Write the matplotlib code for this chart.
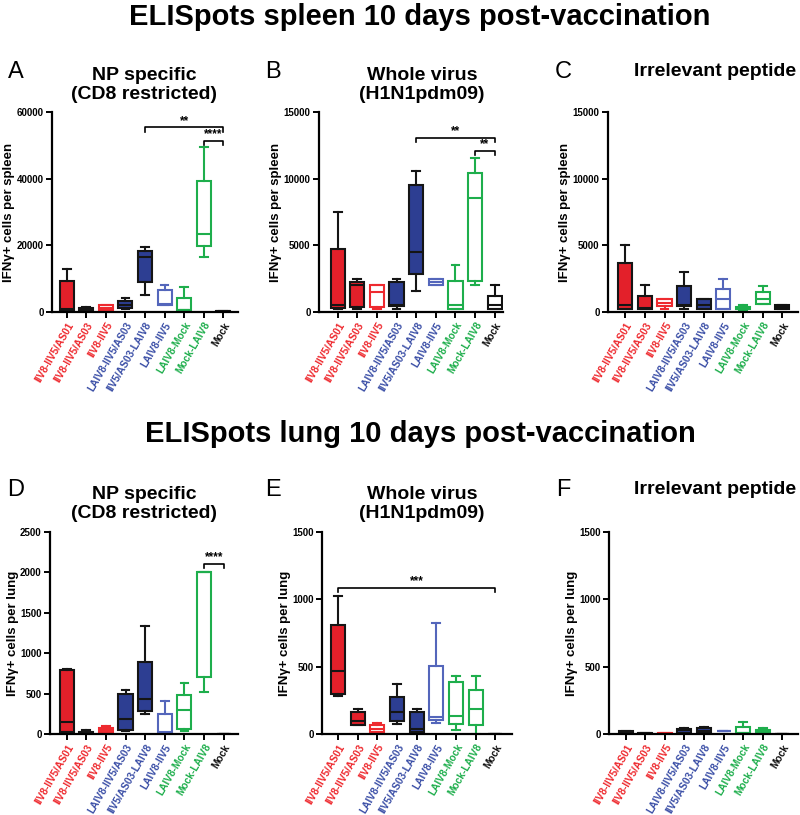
import matplotlib
matplotlib.use("Agg")
import matplotlib.pyplot as plt

plt.rcParams["font.family"] = ["Liberation Sans", "DejaVu Sans"]

# group labels and styling groups
groups = ["IIV8-IIV5/AS01", "IIV8-IIV5/AS03", "IIV8-IIV5", "LAIV8-IIV5/AS03",
          "IIV5/AS03-LAIV8", "LAIV8-IIV5", "LAIV8-Mock", "Mock-LAIV8", "Mock"]
filled = [True, True, False, True, True, False, False, False, False]
group_colour = ["red", "red", "red", "blue", "blue", "blue", "green", "green", "black"]

# five-number summaries per group: (min, q1, median, q3, max)
spleen_np = [(200, 300, 800, 9400, 12900), (300, 400, 900, 1200, 1500),
             (300, 500, 1200, 2000, 2000), (900, 1200, 2200, 3200, 4200),
             (5000, 8900, 16500, 18400, 19500), (2000, 2000, 2300, 6500, 8000),
             (500, 500, 600, 4300, 7500), (16500, 19900, 23500, 39200, 49600),
             (0, 100, 200, 300, 400)]
spleen_virus = [(250, 300, 500, 4700, 7500), (220, 400, 2000, 2250, 2500),
                (230, 350, 1500, 2000, 2000), (220, 420, 550, 2250, 2500),
                (1540, 2840, 4480, 9500, 10580), (2000, 2050, 2250, 2500, 2500),
                (250, 250, 500, 2290, 3490), (1990, 2340, 8520, 10460, 11550),
                (250, 250, 500, 1170, 2000)]
spleen_irr = [(250, 250, 500, 3700, 5000), (250, 250, 300, 1200, 2000),
              (220, 420, 700, 1000, 1000), (220, 420, 500, 1960, 2980),
              (250, 250, 500, 970, 970), (250, 250, 990, 1710, 2480),
              (170, 200, 300, 350, 500), (600, 600, 1000, 1500, 1980),
              (200, 250, 400, 500, 500)]
lung_np = [(25, 25, 150, 790, 800), (0, 5, 15, 30, 50),
           (25, 25, 50, 70, 95), (40, 54, 190, 500, 550),
           (252, 285, 438, 892, 1334), (12, 12, 20, 252, 409),
           (37, 62, 302, 483, 628), (520, 700, 2000, 2000, 2000),
           (0, 0, 0, 2, 3)]
lung_virus = [(283, 300, 471, 813, 1024), (64, 69, 94, 164, 183),
              (12, 12, 37, 67, 82), (77, 94, 164, 275, 370),
              (15, 15, 37, 166, 183), (84, 107, 126, 506, 821),
              (27, 72, 136, 387, 431), (0, 64, 188, 330, 431),
              (0, 0, 0, 1, 2)]
lung_irr = [(3, 5, 10, 20, 25), (0, 2, 4, 6, 8),
            (2, 3, 5, 6, 7), (8, 10, 27, 37, 45),
            (8, 10, 25, 42, 55), (20, 21, 22, 22, 23),
            (5, 7, 10, 50, 92), (5, 7, 20, 27, 45),
            (0, 0, 0, 1, 2)]

# significance brackets: (stars, from group, to group, height)
spleen_np_sig = [("**", 4, 8, 55400), ("****", 7, 8, 51400)]
spleen_virus_sig = [("**", 4, 8, 13070), ("**", 7, 8, 12080)]
lung_np_sig = [("****", 7, 8, 2104)]
lung_virus_sig = [("***", 0, 8, 1086)]

spleen_ticks = [0, 20000, 40000, 60000]
spleen_ticks_small = [0, 5000, 10000, 15000]
lung_ticks_np = [0, 500, 1000, 1500, 2000, 2500]
lung_ticks = [0, 500, 1000, 1500]

FILL = {"red": "#e3202a", "blue": "#2d3e92", "green": "#1eae4c", "black": "#111111"}
EDGE_OPEN = {"red": "#ee2a2f", "blue": "#5466bb", "green": "#1eae4c", "black": "#111111"}
LABEL_COL = {"red": "#ee2a2f", "blue": "#3a4ea6", "green": "#1eae4c", "black": "#111111"}

W, H = 800, 815
fig = plt.figure(figsize=(W / 100, H / 100), dpi=100)


def px_axes(left, right, top, bottom):
    return fig.add_axes([left / W, 1 - bottom / H, (right - left) / W, (bottom - top) / H])


def draw_panel(box, stats, ticks, xlim, ylabel, sig=()):
    ax = px_axes(*box)
    bstats = [dict(whislo=s[0], q1=s[1], med=s[2], q3=s[3], whishi=s[4], label="")
              for s in stats]
    art = ax.bxp(bstats, positions=range(len(stats)), widths=0.72, patch_artist=True,
                 showfliers=False, capwidths=0.4)
    for i, g in enumerate(group_colour):
        if filled[i]:
            face, edge = FILL[g], "#151515"
        else:
            face, edge = "white", EDGE_OPEN[g]
        art["boxes"][i].set(facecolor=face, edgecolor=edge, linewidth=1.5)
        art["medians"][i].set(color=edge, linewidth=1.5)
        for ln in art["whiskers"][2 * i:2 * i + 2] + art["caps"][2 * i:2 * i + 2]:
            ln.set(color=edge, linewidth=1.5)

    ax.set_xlim(*xlim)
    ax.set_ylim(0, ticks[-1])
    ax.set_yticks(ticks)
    ax.set_yticklabels([str(t) for t in ticks], fontsize=7, fontweight="bold")
    ax.set_xticks(range(len(groups)))
    ax.set_xticklabels(groups, rotation=60, ha="right", rotation_mode="anchor",
                       fontsize=7.3, fontweight="bold")
    for lab, g in zip(ax.get_xticklabels(), group_colour):
        lab.set_color(LABEL_COL[g])
    ax.set_ylabel(ylabel, fontsize=9.5, fontweight="bold", labelpad=1)
    for side in ("top", "right"):
        ax.spines[side].set_visible(False)
    for side in ("left", "bottom"):
        ax.spines[side].set_linewidth(1.6)
    ax.tick_params(width=1.4, length=4, pad=2)
    ax.patch.set_alpha(0)

    d = ticks[-1] * 0.022
    for stars, a, b, y in sig:
        ax.plot([a, a, b, b], [y - d, y, y, y - d], color="black", lw=1.2, clip_on=False)
        ax.text((a + b) / 2, y + d * 0.1, stars, ha="center", va="bottom",
                fontsize=8.5, fontweight="bold")
    return ax


draw_panel((52, 238, 112, 312), spleen_np, spleen_ticks, (-0.75, 8.75),
           "IFNγ+ cells per spleen", spleen_np_sig)
draw_panel((319, 503, 112, 312), spleen_virus, spleen_ticks_small, (-0.95, 8.42),
           "IFNγ+ cells per spleen", spleen_virus_sig)
draw_panel((608, 798, 112, 312), spleen_irr, spleen_ticks_small, (-0.88, 8.8),
           "IFNγ+ cells per spleen")
draw_panel((50, 238, 532, 734), lung_np, lung_ticks_np, (-0.85, 8.73),
           "IFNγ+ cells per lung", lung_np_sig)
draw_panel((322, 512, 532, 734), lung_virus, lung_ticks, (-0.82, 8.85),
           "IFNγ+ cells per lung", lung_virus_sig)
draw_panel((609, 798, 532, 734), lung_irr, lung_ticks, (-0.85, 8.8),
           "IFNγ+ cells per lung")


def ftext(x, y, s, **kw):
    fig.text(x / W, 1 - y / H, s, **kw)


ftext(420, 17, "ELISpots spleen 10 days post-vaccination", ha="center", va="center",
      fontsize=21, fontweight="bold")
ftext(420, 434, "ELISpots lung 10 days post-vaccination", ha="center", va="center",
      fontsize=21, fontweight="bold")

sub = dict(va="center", fontsize=14, fontweight="bold", linespacing=1.22)
letter = dict(ha="center", va="center", fontsize=17)
for (lx, ly, l), (tx, ty, t, ha) in [
    ((16, 72, "A"), (144, 85, "NP specific\n(CD8 restricted)", "center")),
    ((273, 72, "B"), (422, 85, "Whole virus\n(H1N1pdm09)", "center")),
    ((563, 72, "C"), (796, 72, "Irrelevant peptide", "right")),
    ((16, 490, "D"), (144, 504, "NP specific\n(CD8 restricted)", "center")),
    ((273, 490, "E"), (422, 504, "Whole virus\n(H1N1pdm09)", "center")),
    ((563, 490, "F"), (796, 490, "Irrelevant peptide", "right")),
]:
    ftext(lx, ly, l, **letter)
    ftext(tx, ty, t, ha=ha, **sub)

fig.savefig("out.png", dpi=100)
